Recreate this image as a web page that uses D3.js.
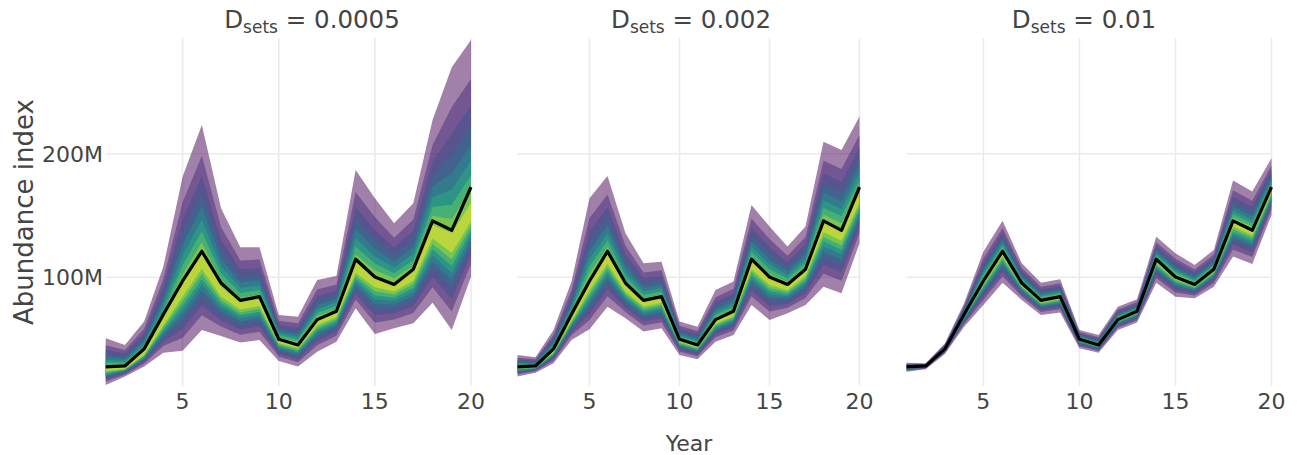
<!DOCTYPE html>
<html><head><meta charset="utf-8">
<script src="https://cdn.jsdelivr.net/npm/d3@7"></script>
<style>body{margin:0;background:#fff}svg{display:block;font-family:"DejaVu Sans",Verdana,sans-serif}</style>
</head><body><svg id="c" width="1302" height="455"></svg>
<script>
// ---- data (values in millions) ----
const years = [1,2,3,4,5,6,7,8,9,10,11,12,13,14,15,16,17,18,19,20];
const trueIndex = [27.4,28.2,42,70,97,121,95.3,81.3,84.3,49.8,45.2,65.7,72.5,114.6,100.2,94.2,106.5,145.6,138,173];

const panelLabels = ["0.0005","0.002","0.01"];

const lower0005  = [12.9,19.6,27.7,39,40.6,57.4,52.5,47.1,49.3,32.3,27.7,39.8,47.9,74.9,54.1,58.7,62.8,79.4,57.4,100.5];
const upper0005  = [50.6,45.2,64.1,108.6,181.4,223.2,155.8,124.3,124.3,69.5,68.1,97.8,101,186.8,163.9,143.7,159.9,227.3,269.9,292];
const center0005 = [25,26.5,38,63,88,111,87,76,79,48,44,63,69.5,106,95,91,100,135.6,124.8,149];

const lower002  = [19.6,22.8,30.4,49.3,57.9,76.2,66.8,56,58.7,37.1,33.7,47.9,53.3,77.6,65.5,70.9,77.6,92.4,87.1,127.5];
const upper002  = [37.1,35.3,57.4,96.5,163.9,182,135.6,111.3,112.6,64.1,60,89.7,96.5,158.5,141,124.8,141,209.7,203,230];
const center002 = [27,27.5,40,66,92,114,90,78,81,48.5,44,63.5,70,109,96,91,103,140,133,163];

const lower001  = [23.6,25.6,37.9,60,77.6,95.6,81.6,69.5,71.4,42.6,39,57.4,63.3,95.6,84.3,83,92.4,116.7,110.8,150.4];
const upper001  = [30.9,30.4,46.6,79,120.7,145.8,111.3,95.6,98.4,57.4,53.3,76.2,82.2,132.8,119.4,110,122.1,178.2,169.3,196.3];
const center001 = [27,28,42,69.5,96,119,94,80.5,83.5,49.5,45,65.5,72,113,99.5,93.5,105.5,143,136,170];

// relative position of each band edge between centre and outer 5%/95% bound
const bandFrac = [1,0.779,0.630,0.512,0.410,0.319,0.234,0.154,0.076];
const xTicks = [5,10,15,20];
const yTicks = [100,200];

// ---- layout ----
const panels = [
  {label:panelLabels[0], x0:105.7, x1:471,   tx:312,  lo:lower0005, hi:upper0005, ce:center0005},
  {label:panelLabels[1], x0:517.5, x1:859.5, tx:691,  lo:lower002,  hi:upper002,  ce:center002},
  {label:panelLabels[2], x0:906.5, x1:1271.5,tx:1084, lo:lower001,  hi:upper001,  ce:center001}
];
const svg = d3.select("#c");
const y = d3.scaleLinear().domain([12.8,292]).range([385,40]);
const plotTop = 38, plotBot = 386;
const txt = "#444";

panels.forEach(p => {
  const x = d3.scaleLinear().domain([1,20]).range([p.x0,p.x1]);
  const g = svg.append("g");
  g.selectAll(".vg").data(xTicks).join("line")
    .attr("x1",d=>x(d)).attr("x2",d=>x(d)).attr("y1",plotTop).attr("y2",plotBot)
    .attr("stroke","#ebebeb").attr("stroke-width",1.6);
  g.selectAll(".hg").data(yTicks).join("line")
    .attr("x1",p.x0).attr("x2",p.x1).attr("y1",d=>y(d)).attr("y2",d=>y(d))
    .attr("stroke","#ebebeb").attr("stroke-width",1.6);
  const n = bandFrac.length;
  bandFrac.forEach((f,i) => {
    const area = d3.area()
      .x((d,j)=>x(years[j]))
      .y0((d,j)=>y(p.ce[j] + f*(p.lo[j]-p.ce[j])))
      .y1((d,j)=>y(p.ce[j] + f*(p.hi[j]-p.ce[j])));
    g.append("path").datum(years).attr("d",area)
      .attr("fill", d3.interpolateViridis(i/(n-1))).attr("fill-opacity",0.5);
  });
  const line = d3.line().x((d,j)=>x(years[j])).y(d=>y(d));
  g.append("path").datum(trueIndex).attr("d",line)
    .attr("fill","none").attr("stroke","#000").attr("stroke-width",3.2).attr("stroke-linejoin","round");
  g.selectAll(".xt").data(xTicks).join("text")
    .attr("x",d=>x(d)).attr("y",409).attr("text-anchor","middle")
    .attr("font-size",22).attr("fill",txt).text(d=>d);
  const t = g.append("text").attr("x",p.tx).attr("y",28).attr("text-anchor","middle")
    .attr("font-size",24.5).attr("fill",txt);
  t.append("tspan").text("D");
  t.append("tspan").attr("font-size",17).attr("dy",5).text("sets");
  t.append("tspan").attr("dy",-5).text(" = " + p.label);
});

svg.selectAll(".yt").data(yTicks).join("text")
  .attr("x",103).attr("y",d=>y(d)+8).attr("text-anchor","end")
  .attr("font-size",22).attr("fill",txt).text(d=>d+"M");

svg.append("text").attr("transform","translate(33,212) rotate(-90)")
  .attr("text-anchor","middle").attr("font-size",26).attr("fill",txt).text("Abundance index");
svg.append("text").attr("x",689).attr("y",451).attr("text-anchor","middle")
  .attr("font-size",22).attr("fill",txt).text("Year");
</script></body></html>
